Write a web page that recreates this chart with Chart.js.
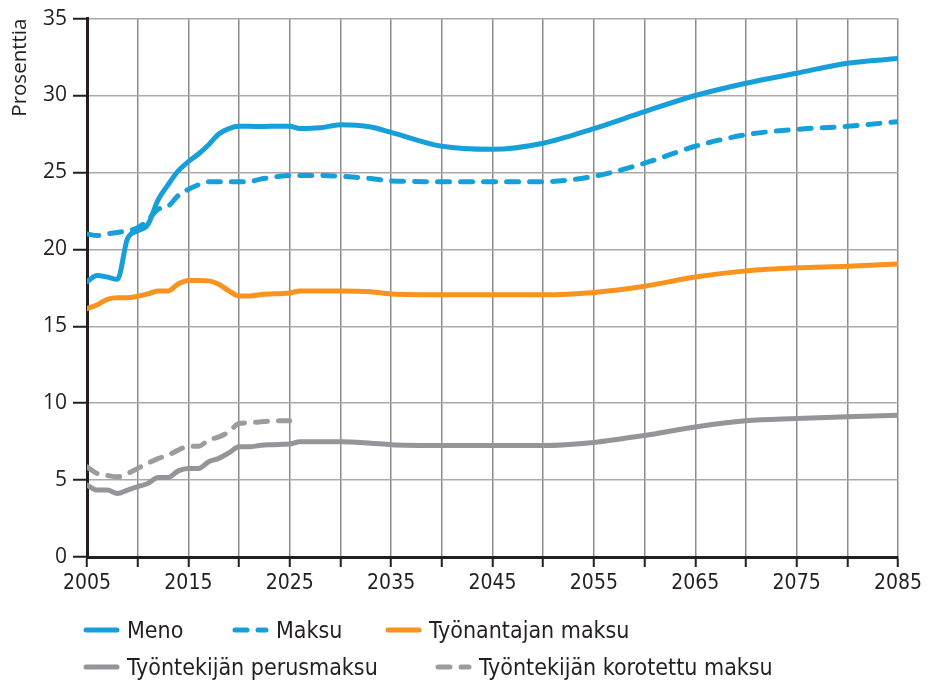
<!DOCTYPE html>
<html>
<head>
<meta charset="utf-8">
<script src="https://cdn.jsdelivr.net/npm/chart.js@4.4.0/dist/chart.umd.min.js"></script>
<style>
  html, body { margin: 0; padding: 0; background: #fff; }
  #wrap { position: relative; width: 930px; height: 684px; }
  #legend { position: absolute; left: 83px; top: 615px; font-family: 'DejaVu Sans Condensed', 'Liberation Sans Narrow', Roboto, sans-serif; font-size: 23px; color: #231f20; }
  .item { position: absolute; white-space: nowrap; display: flex; align-items: center; height: 30px; }
  .item svg { margin-right: 7px; }
</style>
</head>
<body>
<div id="wrap">
  <canvas id="chart" width="930" height="684"></canvas>
  <div id="legend"></div>
</div>
<script>
// vuodet ja sarjat
const years = [2005, 2006, 2007, 2008, 2009, 2010, 2011, 2012, 2013, 2014, 2015, 2016, 2017, 2018, 2019, 2020,
  2021, 2022, 2023, 2024, 2025, 2026, 2028, 2030, 2033, 2035, 2040, 2045, 2050, 2055, 2060, 2065, 2070, 2075, 2080, 2085];

const meno = [17.9, 18.3, 18.2, 18.05, 20.7, 21.2, 21.6, 23.2, 24.2, 25.1, 25.7, 26.2, 26.8, 27.5, 27.85, 28.0,
  28.0, 27.98, 28.0, 28.0, 28.0, 27.85, 27.9, 28.1, 27.95, 27.6, 26.7, 26.5, 26.9, 27.85, 28.95, 30.0, 30.8, 31.45, 32.1, 32.4];

const maksu = [21.0, 20.9, 21.0, 21.1, 21.2, 21.4, 21.9, 22.6, 22.8, 23.5, 23.9, 24.2, 24.4, 24.4, 24.4, 24.4,
  24.4, 24.55, 24.65, 24.75, 24.8, 24.8, 24.8, 24.75, 24.6, 24.45, 24.4, 24.4, 24.4, 24.75, 25.6, 26.7, 27.45, 27.8, 28.0, 28.3];

const tyonantaja = [16.15, 16.4, 16.75, 16.85, 16.85, 16.95, 17.1, 17.3, 17.3, 17.75, 17.98, 17.98, 17.95, 17.73, 17.3, 16.97,
  16.97, 17.05, 17.1, 17.12, 17.16, 17.3, 17.3, 17.3, 17.25, 17.1, 17.05, 17.05, 17.05, 17.2, 17.6, 18.2, 18.6, 18.8, 18.9, 19.05];

const perusmaksu = [4.68, 4.35, 4.35, 4.13, 4.35, 4.57, 4.78, 5.17, 5.17, 5.6, 5.76, 5.76, 6.19, 6.41, 6.77, 7.16,
  7.16, 7.25, 7.3, 7.32, 7.34, 7.5, 7.5, 7.5, 7.4, 7.3, 7.25, 7.25, 7.25, 7.45, 7.9, 8.45, 8.85, 9.0, 9.12, 9.22];

const korotettu = [5.86, 5.43, 5.3, 5.21, 5.43, 5.76, 6.1, 6.4, 6.62, 6.95, 7.2, 7.2, 7.6, 7.81, 8.14, 8.68,
  8.72, 8.78, 8.83, 8.85, 8.85, null, null, null, null, null, null, null, null, null, null, null, null, null, null, null];

const labels = ['Meno', 'Maksu', 'Työnantajan maksu', 'Työntekijän perusmaksu', 'Työntekijän korotettu maksu'];
const colors = ['#179fd9', '#179fd9', '#f7931e', '#939598', '#9a9c9f'];
const dashes = [[], [12, 11], [], [], [12, 11]];
const seriesList = [meno, maksu, tyonantaja, perusmaksu, korotettu];

const yTicks = [0, 5, 10, 15, 20, 25, 30, 35];

const dark = '#231f20';

function toPoints(values) {
  return years.map((y, i) => ({ x: y, y: values[i] }));
}

const datasets = seriesList.map((s, i) => ({
  label: labels[i],
  data: toPoints(s),
  borderColor: colors[i],
  borderWidth: 5,
  borderDash: dashes[i],
  borderCapStyle: 'round',
  borderJoinStyle: 'round',
  pointRadius: 0,
  cubicInterpolationMode: 'monotone',
  fill: false
}));

new Chart(document.getElementById('chart').getContext('2d'), {
  type: 'line',
  data: { datasets: datasets },
  options: {
    responsive: false,
    animation: false,
    layout: { padding: { left: 0, right: 32, top: 18, bottom: 84 } },
    plugins: {
      legend: { display: false },
      tooltip: { enabled: false }
    },
    scales: {
      x: {
        type: 'linear',
        min: 2005,
        max: 2085,
        afterBuildTicks: scale => {
          scale.ticks = [];
          for (let v = 2005; v <= 2085; v += 5) scale.ticks.push({ value: v });
        },
        afterFit: scale => { scale.height = 43; },
        ticks: {
          autoSkip: false,
          maxRotation: 0,
          padding: 4,
          color: dark,
          font: { family: "'DejaVu Sans Condensed', 'Liberation Sans Narrow', Roboto, sans-serif", size: 21 },
          callback: v => (v % 10 === 5 ? String(v) : '')
        },
        grid: { color: '#8c8c8c', lineWidth: 1.5, tickLength: 10, tickColor: dark, tickWidth: 2 },
        border: { color: dark, width: 3 }
      },
      y: {
        min: 0,
        max: 35,
        afterBuildTicks: scale => { scale.ticks = yTicks.map(v => ({ value: v })); },
        afterFit: scale => { scale.width = 87; },
        ticks: {
          padding: 6,
          color: dark,
          font: { family: "'Open Sans', sans-serif", size: 21 }
        },
        grid: { color: '#a9a9a9', lineWidth: 1.5, tickLength: 14, tickColor: dark, tickWidth: 2 },
        border: { color: dark, width: 3 },
        title: {
          display: true,
          text: 'Prosenttia',
          align: 'end',
          color: dark,
          padding: { top: 8, bottom: 4 },
          font: { family: "'Open Sans', sans-serif", size: 20.5 }
        }
      }
    }
  }
});

// selite HTML:nä
const legendPos = [[0, 0], [149, 0], [302, 0], [0, 37], [352, 37]];
const legendEl = document.getElementById('legend');
labels.forEach((t, i) => {
  const d = document.createElement('div');
  d.className = 'item';
  d.style.left = legendPos[i][0] + 'px';
  d.style.top = legendPos[i][1] + 'px';
  const dash = dashes[i].length ? 'stroke-dasharray="12 11"' : '';
  d.innerHTML = '<svg width="37" height="10"><line x1="3" y1="5" x2="34" y2="5" stroke="' + colors[i] +
    '" stroke-width="5" stroke-linecap="round" ' + dash + '/></svg><span>' + t + '</span>';
  legendEl.appendChild(d);
});
</script>
</body>
</html>
